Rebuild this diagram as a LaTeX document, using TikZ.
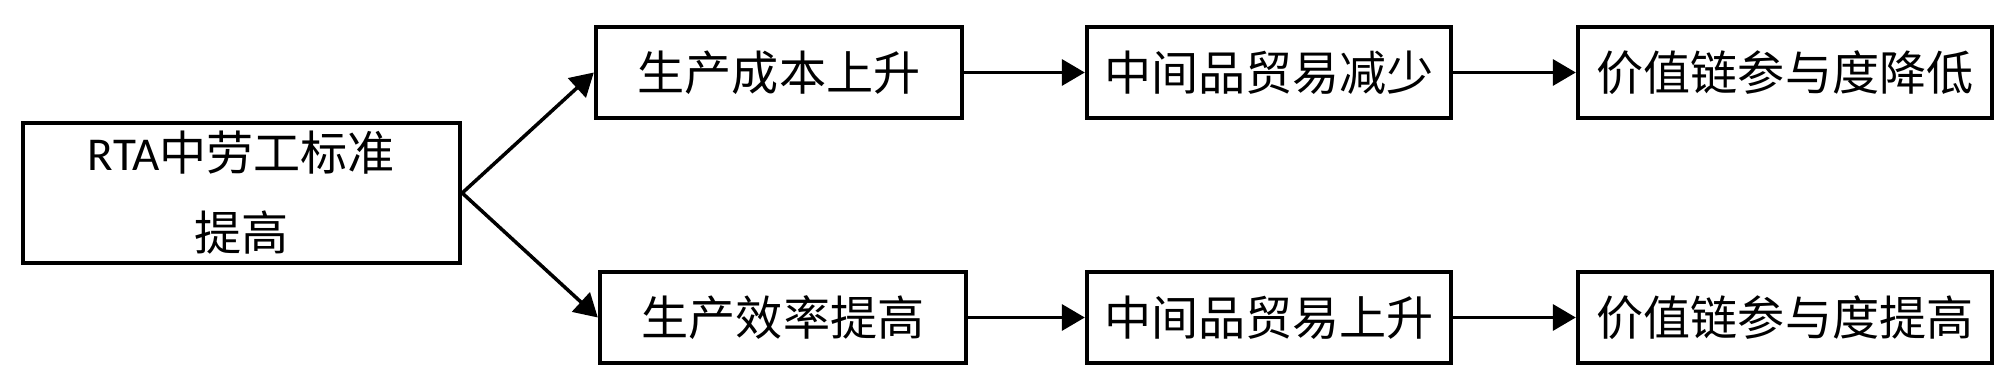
\documentclass[tikz,border=0pt]{standalone}
\usepackage{fontspec}
\setmainfont{Carlito}
\newfontfamily\cjk{Noto Sans CJK SC}
\usepackage{tikz}
\usetikzlibrary{arrows.meta,positioning}

\begin{document}
\begin{tikzpicture}[
  box/.style={draw,line width=1.25pt,inner sep=0pt,minimum height=9.1mm,align=center,font=\fontsize{13.4}{22.8}\selectfont\cjk},
  arr/.style={-{Triangle[length=2.3mm,width=2.6mm]},line width=1pt}
]
\useasboundingbox (0,0) rectangle (20.15,3.84);

% left: cause
\node[box,minimum width=43.7mm,minimum height=14mm,font=\fontsize{13.4}{22.8}\selectfont] (rta) at (2.415,1.91) {RTA{\cjk 中劳工标准}\\{\cjk 提高}};

% top row: cost channel
\node[box,minimum width=36.6mm] (cost)     at (7.79,3.115)  {生产成本上升};
\node[box,minimum width=36.4mm] (tradedn)  at (12.69,3.115) {中间品贸易减少};
\node[box,minimum width=41.4mm] (gvcdn)    at (17.85,3.115) {价值链参与度降低};

% bottom row: efficiency channel
\node[box,minimum width=36.6mm] (eff)      at (7.83,0.665)  {生产效率提高};
\node[box,minimum width=36.4mm] (tradeup)  at (12.69,0.665) {中间品贸易上升};
\node[box,minimum width=41.4mm] (gvcup)    at (17.85,0.665) {价值链参与度提高};

\draw[arr] (rta.east) -- (cost.west);
\draw[arr] (rta.east) -- (eff.west);
\draw[arr] (cost) -- (tradedn);
\draw[arr] (tradedn) -- (gvcdn);
\draw[arr] (eff) -- (tradeup);
\draw[arr] (tradeup) -- (gvcup);
\end{tikzpicture}
\end{document}
